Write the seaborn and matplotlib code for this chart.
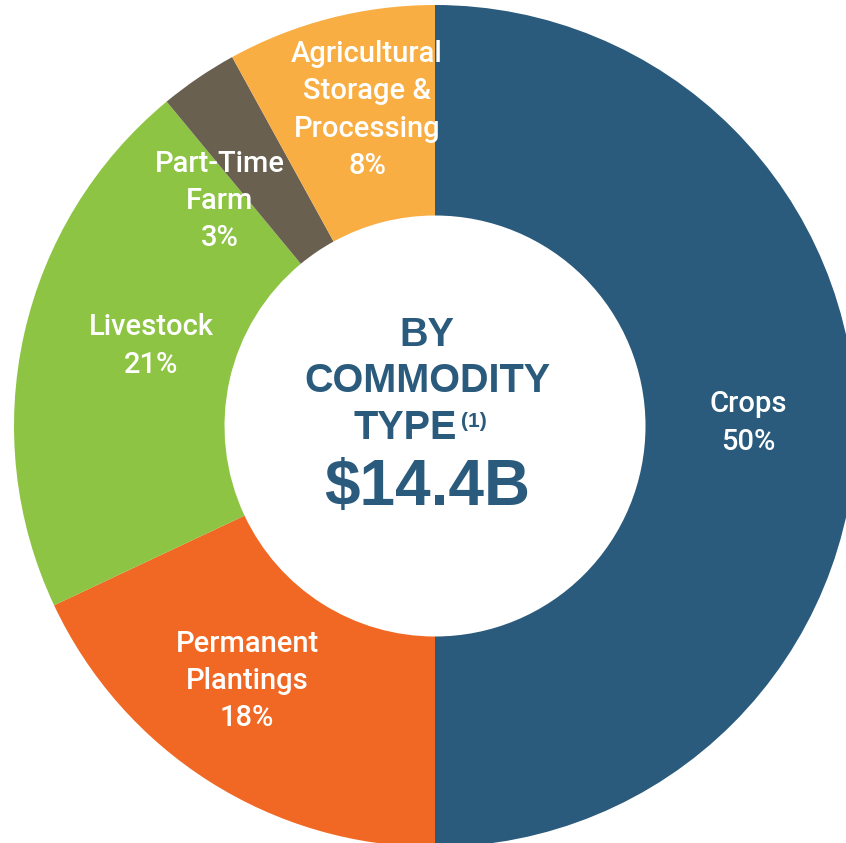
import matplotlib
matplotlib.use("Agg")
import matplotlib.pyplot as plt
import seaborn as sns

# Portfolio split by commodity type (share of $14.4B)
categories = ["Crops", "Permanent\nPlantings", "Livestock", "Part-Time\nFarm",
              "Agricultural\nStorage &\nProcessing"]
shares = [50, 18, 21, 3, 8]
colors = ["#2A5A7C", "#F06823", "#8DC443", "#6A6050", "#F9AE43"]
total_label = "$14.4B"

sns.set_theme(style="white")
palette = sns.color_palette(colors)
plt.rcParams["font.family"] = ["Roboto", "DejaVu Sans"]

W, H = 846, 843
fig = plt.figure(figsize=(W / 100, H / 100), dpi=100)
ax = fig.add_axes([0, 0, 1, 1])
ax.set_xlim(0, W)
ax.set_ylim(0, H)
ax.set_aspect("equal")
ax.axis("off")

cx, cy = 435, H - 426
R = 421
ring = 0.5

wedges, _ = ax.pie(shares, colors=palette, startangle=90, counterclock=False,
                   radius=R, center=(cx, cy),
                   wedgeprops=dict(width=R * ring, linewidth=0))
ax.set_xlim(0, W)
ax.set_ylim(0, H)

# Slice labels (y measured from the top edge)
label_pos = [(748, 423), (247, 681), (151, 346), (220, 201), (367, 110)]
for name, val, (lx, ly) in zip(categories, shares, label_pos):
    ax.text(lx, H - ly, f"{name}\n{val}%", ha="center", va="center",
            color="white", fontsize=21, fontweight="medium", linespacing=1.42)

# Centre title
blue = colors[0]
bold = dict(color=blue, fontweight="bold", family=["Liberation Sans", "DejaVu Sans"])
ax.text(427, H - 335, "BY", ha="center", va="center", fontsize=28.5, **bold)
ax.text(427, H - 381, "COMMODITY", ha="center", va="center", fontsize=28.5, **bold)
ax.text(457, H - 428, "TYPE", ha="right", va="center", fontsize=28.5, **bold)
ax.text(461, H - 412, "(1)", ha="left", va="top", fontsize=15, **bold)
ax.text(427, H - 488, total_label, ha="center", va="center", fontsize=46, **bold)

fig.savefig("out.png", dpi=100)
